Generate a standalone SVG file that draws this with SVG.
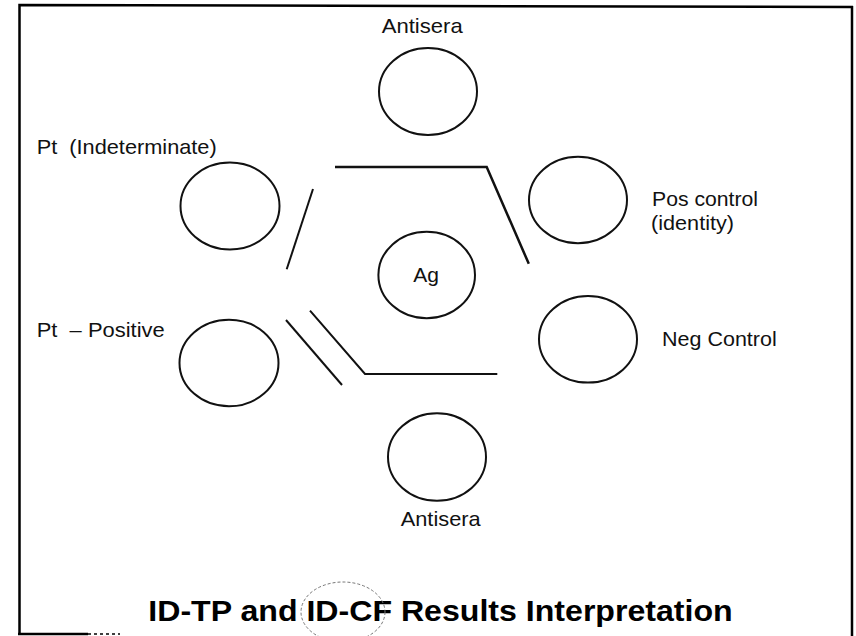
<svg xmlns="http://www.w3.org/2000/svg" width="856" height="636" viewBox="0 0 856 636">
<style>
.well{fill:none;stroke:#111;stroke-width:2}
.lbl{font-family:"Liberation Sans",Arial,sans-serif;font-size:21px;fill:#111}
.ttl{font-family:"Liberation Sans",Arial,sans-serif;font-size:30px;font-weight:bold;fill:#000}
.ln{fill:none;stroke:#111;stroke-width:2;stroke-linecap:butt}
.frame{fill:none;stroke:#000;stroke-width:2.5}
</style>
<rect width="856" height="636" fill="#fff"/>
<g id="frame">
<polyline class="frame" points="19.5,635 19.5,5 853,7"/>
<line class="frame" x1="852" y1="6" x2="852" y2="636"/>
<line class="frame" x1="18" y1="634" x2="88" y2="634"/>
<line x1="88" y1="634" x2="120" y2="634" stroke="#000" stroke-width="1.5" stroke-dasharray="3 3"/>
</g>
<g id="antisera-top">
<ellipse class="well" cx="428" cy="91.5" rx="49" ry="43.5"/>
<text class="lbl" x="381.7" y="33" textLength="81" lengthAdjust="spacingAndGlyphs">Antisera</text>
</g>
<g id="pt-indeterminate">
<ellipse class="well" cx="230" cy="206" rx="49.5" ry="43.5"/>
<text class="lbl" x="36.7" y="154" textLength="180" lengthAdjust="spacingAndGlyphs" xml:space="preserve">Pt  (Indeterminate)</text>
</g>
<g id="pos-control">
<ellipse class="well" cx="578" cy="200" rx="49" ry="43.3"/>
<text class="lbl" x="652" y="206" textLength="106" lengthAdjust="spacingAndGlyphs">Pos control</text>
<text class="lbl" x="651" y="230" textLength="83" lengthAdjust="spacingAndGlyphs">(identity)</text>
</g>
<g id="ag">
<ellipse class="well" cx="426.7" cy="275" rx="48.3" ry="43.3"/>
<text class="lbl" x="413.3" y="281.7" textLength="25.7" lengthAdjust="spacingAndGlyphs">Ag</text>
</g>
<g id="pt-positive">
<ellipse class="well" cx="229" cy="363" rx="49.5" ry="43.3"/>
<text class="lbl" x="36.7" y="336.7" textLength="128" lengthAdjust="spacingAndGlyphs" xml:space="preserve">Pt  – Positive</text>
</g>
<g id="neg-control">
<ellipse class="well" cx="588" cy="339.3" rx="49" ry="43.3"/>
<text class="lbl" x="662" y="346" textLength="114.7" lengthAdjust="spacingAndGlyphs">Neg Control</text>
</g>
<g id="antisera-bottom">
<ellipse class="well" cx="437" cy="457" rx="49" ry="43.7"/>
<text class="lbl" x="400.7" y="526" textLength="80" lengthAdjust="spacingAndGlyphs">Antisera</text>
</g>
<g id="connectors">
<line class="ln" x1="313" y1="189" x2="286.7" y2="269.3"/>
<polyline class="ln" points="335,167 486.7,167 528.8,263.8" style="stroke-width:2.5"/>
<line class="ln" x1="286" y1="320" x2="342" y2="385"/>
<polyline class="ln" points="310,310.7 365,374 497.3,374"/>
</g>
<g id="title">
<text class="ttl" x="148.3" y="621" textLength="584.4" lengthAdjust="spacingAndGlyphs">ID-TP and ID-CF Results Interpretation</text>
<ellipse cx="343" cy="612" rx="42" ry="30" fill="none" stroke="#777" stroke-width="1" stroke-dasharray="3 2"/>
</g>
</svg>
